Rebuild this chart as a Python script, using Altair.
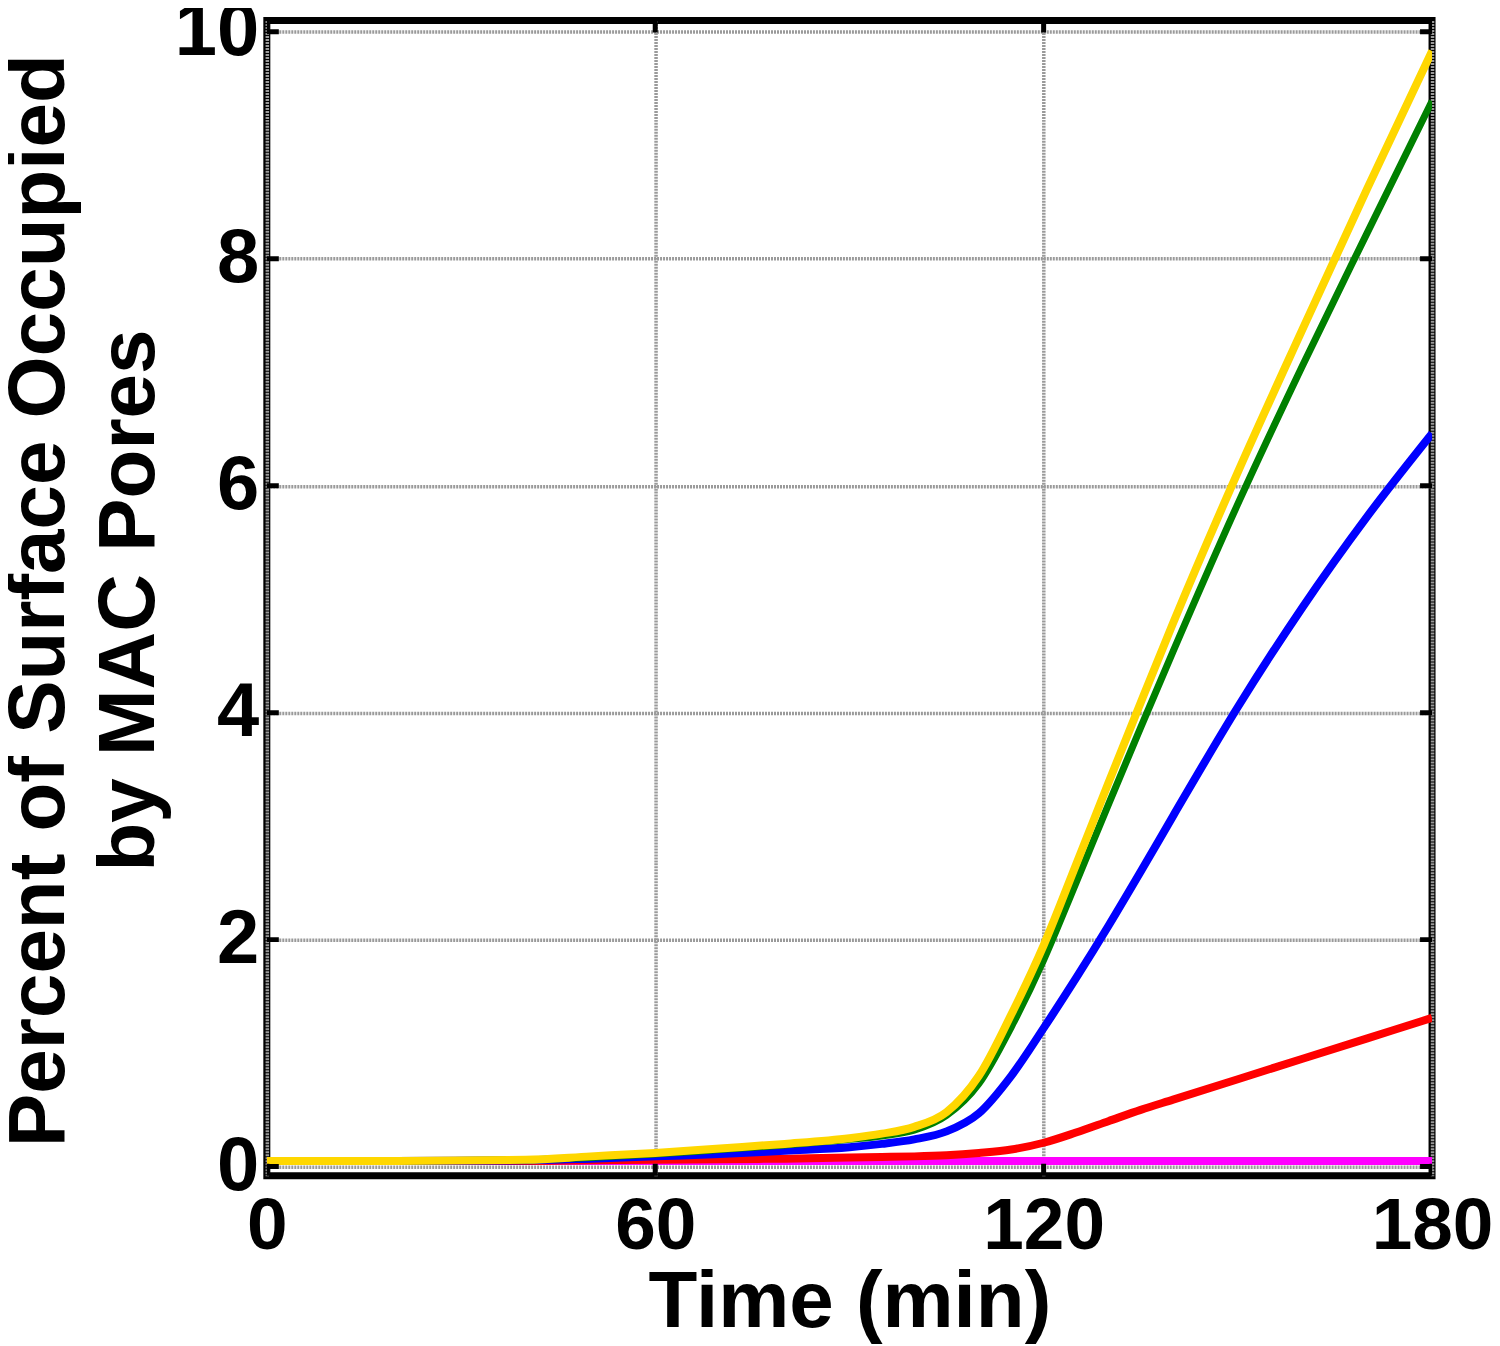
import altair as alt
import pandas as pd

# ---- data ----
times = [0, 20, 40, 50, 60, 70, 80, 90, 95, 100, 105, 110, 115, 120, 125, 130, 135, 140, 150, 160, 170, 180]
yellow = [0.05, 0.05, 0.06, 0.09, 0.12, 0.16, 0.20, 0.25, 0.29, 0.35, 0.48, 0.80, 1.34, 1.95, 2.66, 3.38, 4.09, 4.79, 6.12, 7.38, 8.62, 9.83]
green = [0.05, 0.05, 0.06, 0.08, 0.11, 0.15, 0.19, 0.24, 0.27, 0.32, 0.45, 0.73, 1.23, 1.82, 2.50, 3.19, 3.87, 4.54, 5.84, 7.06, 8.23, 9.39]
blue = [0.05, 0.05, 0.055, 0.07, 0.09, 0.11, 0.14, 0.17, 0.20, 0.24, 0.31, 0.47, 0.80, 1.22, 1.66, 2.12, 2.60, 3.09, 4.05, 4.93, 5.73, 6.46]
red = [0.05, 0.05, 0.05, 0.055, 0.06, 0.065, 0.07, 0.08, 0.085, 0.09, 0.10, 0.12, 0.15, 0.21, 0.30, 0.40, 0.50, 0.59, 0.77, 0.95, 1.13, 1.31]
magenta = [0.05, 0.05, 0.05, 0.05, 0.05, 0.05, 0.05, 0.05, 0.05, 0.05, 0.05, 0.05, 0.05, 0.05, 0.05, 0.05, 0.05, 0.05, 0.05, 0.05, 0.05, 0.05]

series_names = ["magenta", "red", "blue", "green", "yellow"]
series_values = [magenta, red, blue, green, yellow]
series_colors = ["#FF00FF", "#FF0000", "#0000FF", "#008000", "#FFD700"]
series_widths = [8, 8, 8, 7, 8]

x_ticks = [0, 60, 120, 180]
y_ticks = [0, 2, 4, 6, 8, 10]
X_MIN, X_MAX = 0, 180
Y_MIN, Y_MAX = -0.08, 10.1

FONT = "Liberation Sans"
GRID = dict(grid=True, gridColor="#9a9a9a", gridDash=[2, 1], gridWidth=3.5, gridOpacity=1)

x_enc = alt.X(
    "t:Q",
    scale=alt.Scale(domain=[X_MIN, X_MAX], nice=False, zero=False),
    axis=alt.Axis(
        values=x_ticks, format="d",
        labelFont=FONT, labelFontSize=73, labelFontWeight="bold", labelColor="black",
        labelPadding=15, labelFlush=False, labelOverlap=False,
        ticks=False, tickSize=0, domain=False,
        title="Time (min)", titleFont=FONT, titleFontSize=80, titleFontWeight="bold",
        titleColor="black", titleY=88, titleBaseline="top",
        **GRID,
    ),
)
y_enc = alt.Y(
    "v:Q",
    scale=alt.Scale(domain=[Y_MIN, Y_MAX], nice=False, zero=False),
    axis=alt.Axis(
        values=y_ticks, format="d",
        labelFont=FONT, labelFontSize=76, labelFontWeight="bold", labelColor="black",
        labelPadding=8, labelFlush=False, labelOverlap=False,
        ticks=False, tickSize=0, domain=False,
        title=["Percent of Surface Occupied", "by MAC Pores"],
        titleFont=FONT, titleFontSize=80, titleFontWeight="bold", titleColor="black",
        titleAngle=270, titleX=-266, titleY=580, titleBaseline="top",
        titleAlign="center", titleLineHeight=90,
        **GRID,
    ),
)

layers = []
for name, vals, color, w in zip(series_names, series_values, series_colors, series_widths):
    df = pd.DataFrame({"t": times, "v": vals, "series": name})
    layers.append(
        alt.Chart(df).mark_line(color=color, strokeWidth=w, interpolate="monotone", clip=True)
        .encode(x=x_enc, y=y_enc)
    )

# inward tick marks on all four sides
left_ticks = pd.DataFrame({"t": [X_MIN] * len(y_ticks), "v": y_ticks})
right_ticks = pd.DataFrame({"t": [X_MAX] * len(y_ticks), "v": y_ticks})
bottom_ticks = pd.DataFrame({"t": x_ticks, "v": [Y_MIN] * len(x_ticks)})
top_ticks = pd.DataFrame({"t": x_ticks, "v": [Y_MAX] * len(x_ticks)})

for d in (left_ticks, right_ticks):
    layers.append(
        alt.Chart(d).mark_tick(orient="horizontal", size=24, thickness=5, color="black", clip=True, opacity=1)
        .encode(x=x_enc, y=y_enc)
    )
for d in (bottom_ticks, top_ticks):
    layers.append(
        alt.Chart(d).mark_tick(orient="vertical", size=24, thickness=5, color="black", clip=True, opacity=1)
        .encode(x=x_enc, y=y_enc)
    )

chart = (
    alt.layer(*layers)
    .properties(
        width=1166, height=1156,
        autosize=alt.AutoSizeParams(type="none"),
        padding={"left": 259, "top": 12, "right": 60, "bottom": 170},
        background="white",
    )
    .configure_view(stroke="black", strokeWidth=7)
)

chart.save("out.html", embed_options={"renderer": "svg", "actions": False})
